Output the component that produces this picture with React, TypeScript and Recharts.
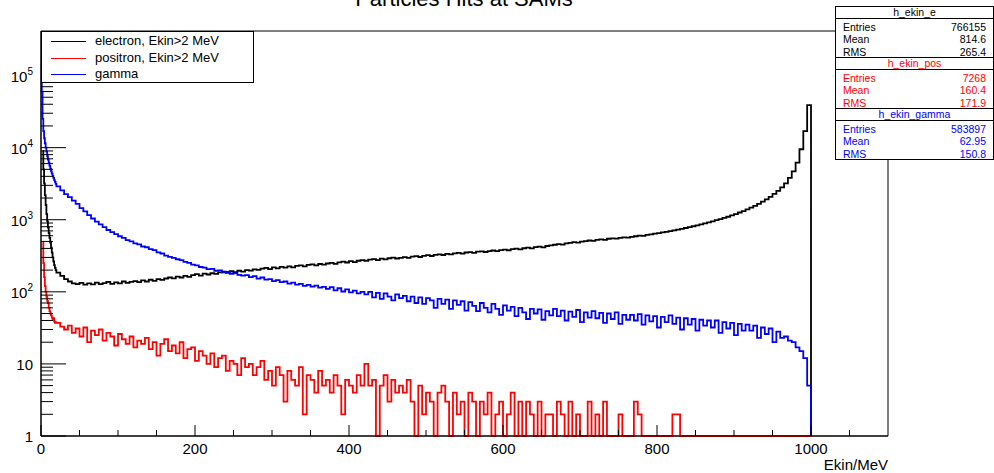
import { LineChart, Line, XAxis, YAxis, ReferenceArea } from 'recharts'

// Histogram binning: 1 MeV bins below 20 MeV, 5 MeV bins from 20 to 1000 MeV
const FINE_WIDTH = 1
const COARSE_START = 20
const COARSE_WIDTH = 5
const E_END = 1000

// counts per bin (1 = empty bin, drawn on the axis)
const GAMMA_FINE = [
  150000, 60000, 25000, 17000, 13500, 11500, 10000, 8800, 7600, 6800,
  6200, 5600, 5100, 4700, 4350, 4050, 3800, 3550, 3350, 3150
]
// electrons and positrons start at 2 MeV (Ekin>2 MeV cut)
const ELECTRON_FINE = [
  9000, 5000, 3200, 2200, 1600, 1200, 950, 780, 650, 560,
  480, 410, 350, 300, 265, 235, 215, 200
]
const POSITRON_FINE = [
  480, 250, 160, 120, 100, 85, 75, 70, 60, 54,
  50, 47, 44, 41, 43, 39, 37, 38
]

const GAMMA_COARSE = [
  2900, 2560, 2270, 2060, 1840, 1660, 1450, 1310, 1160, 1040,
  940, 860, 790, 720, 675, 630, 590, 560, 520, 500,
  470, 455, 425, 415, 390, 378, 352, 340, 318, 305,
  296, 283, 275, 260, 252, 238, 233, 221, 216, 207,
  208, 196, 199, 186, 189, 178, 182, 172, 168, 170,
  160, 165, 152, 158, 148, 150, 141, 145, 136, 139,
  130, 134, 126, 129, 121, 125, 118, 122, 114, 117,
  110, 116, 105, 112, 101, 108, 98, 104, 95, 100,
  92, 100, 84, 97, 80, 95, 86, 76, 92, 82,
  88, 74, 86, 70, 84, 68, 82, 76, 60, 80,
  68, 78, 58, 76, 66, 74, 55, 72, 64, 54,
  70, 60, 52, 68, 58, 48, 65, 55, 62, 46,
  60, 52, 42, 58, 50, 57, 41, 54, 47, 58,
  46, 55, 40, 53, 45, 56, 38, 52, 44, 54,
  43, 51, 37, 50, 42, 52, 36, 48, 41, 48,
  40, 49, 35, 47, 39, 46, 32, 45, 38, 47,
  36, 44, 30, 43, 35, 42, 29, 41, 34, 40,
  32, 40, 27, 38, 31, 37, 25, 36, 29, 35,
  29, 34, 23, 32, 26, 31, 20, 28, 23, 24,
  21, 20, 17, 15, 12, 5
]

const ELECTRON_COARSE = [
  185, 166, 150, 139, 131, 128, 133, 126, 131, 127,
  134, 128, 132, 137, 129, 135, 131, 139, 133, 137,
  141, 136, 144, 139, 147, 142, 150, 146, 153, 158,
  154, 162, 158, 166, 161, 170, 176, 168, 179, 174,
  181, 177, 186, 190, 183, 193, 188, 196, 191, 200,
  197, 205, 201, 210, 215, 207, 218, 212, 222, 216,
  225, 219, 229, 233, 226, 236, 240, 232, 243, 238,
  247, 252, 244, 256, 262, 255, 266, 259, 270, 276,
  270, 280, 284, 276, 288, 282, 292, 298, 290, 296,
  302, 295, 308, 312, 304, 316, 322, 314, 326, 331,
  324, 336, 330, 341, 346, 338, 351, 356, 348, 360,
  364, 357, 368, 374, 366, 379, 385, 377, 391, 397,
  388, 402, 409, 400, 416, 423, 414, 432, 441, 450,
  460, 452, 470, 478, 488, 480, 497, 506, 515, 508,
  525, 534, 527, 545, 552, 546, 560, 571, 564, 580,
  590, 601, 596, 615, 628, 640, 652, 666, 680, 695,
  712, 730, 748, 768, 790, 812, 836, 862, 890, 920,
  950, 985, 1020, 1060, 1100, 1150, 1200, 1260, 1320, 1390,
  1470, 1560, 1660, 1780, 1920, 2080, 2280, 2520, 2820, 3200,
  3800, 4700, 6200, 9500, 17000, 39000
]

const POSITRON_COARSE = [
  37, 33, 30, 34, 27, 31, 24, 32, 20, 29,
  25, 30, 21, 27, 24, 18, 26, 22, 19, 24,
  17, 21, 19, 23, 16, 20, 13, 19, 22, 15,
  18, 14, 20, 12, 16, 17, 11, 15, 13, 10,
  14, 9, 12, 13, 8, 11, 10, 7, 12, 9,
  10, 7, 9, 11, 6, 8, 5, 9, 7, 3,
  8, 6, 5, 9, 2, 7, 6, 4, 8, 5,
  6, 4, 7, 5, 2, 6, 5, 4, 7, 5,
  10, 5, 6, 1, 5, 7, 3, 6, 4, 5,
  4, 6, 3, 1, 5, 2, 4, 3, 1, 4,
  5, 3, 1, 4, 2, 3, 1, 4, 3, 1,
  3, 2, 4, 1, 2, 3, 1, 2, 4, 1,
  3, 1, 3, 2, 1, 3, 1, 2, 2, 1,
  3, 2, 1, 3, 1, 2, 1, 1, 3, 1,
  2, 1, 3, 1, 1, 1, 2, 1, 1, 1,
  3, 2, 1, 1, 1, 1, 1, 1, 1, 1,
  2, 2, 1, 1, 1, 1, 1, 1, 1, 1,
  1, 1, 1, 1, 1, 1, 1, 1, 1, 1,
  1, 1, 1, 1, 1, 1, 1, 1, 1, 1,
  1, 1, 1, 1, 1, 1
]

const X_TICKS = [0, 50, 100, 150, 200, 250, 300, 350, 400, 450, 500, 550, 600, 650, 700, 750, 800, 850, 900, 950, 1000, 1050]
const Y_DECADES = [1, 10, 100, 1000, 10000, 100000]
const Y_MINOR = [2, 3, 4, 5, 6, 7, 8, 9]
const Y_MAX = 415000

const STATS = [
  { name: 'h_ekin_e', color: '#000000', entries: '766155', mean: '814.6', rms: '265.4' },
  { name: 'h_ekin_pos', color: '#ff0000', entries: '7268', mean: '160.4', rms: '171.9' },
  { name: 'h_ekin_gamma', color: '#0000ff', entries: '583897', mean: '62.95', rms: '150.8' }
]

const LEGEND = [
  { label: 'electron, Ekin>2 MeV', color: '#000000' },
  { label: 'positron, Ekin>2 MeV', color: '#ff0000' },
  { label: 'gamma', color: '#0000ff' }
]

const FONT = '"Liberation Sans", Arial, Helvetica, sans-serif'

function toBins(fineStart: number, fine: number[], coarse: number[]) {
  const pts = fine.map((n, i) => ({ e: fineStart + i * FINE_WIDTH, n }))
  coarse.forEach((n, i) => pts.push({ e: COARSE_START + i * COARSE_WIDTH, n }))
  pts.push({ e: E_END, n: 1 })
  return pts
}

const gammaData = toBins(0, GAMMA_FINE, GAMMA_COARSE)
const electronData = toBins(2, ELECTRON_FINE, ELECTRON_COARSE)
const positronData = toBins(2, POSITRON_FINE, POSITRON_COARSE)

const yTicks: number[] = []
Y_DECADES.forEach((d) => {
  yTicks.push(d)
  Y_MINOR.forEach((m) => {
    if (d * m < Y_MAX) yTicks.push(d * m)
  })
})

function XTick(props: any) {
  const { x, y, payload } = props
  const v = payload.value
  const major = v % 200 === 0
  return (
    <g>
      <line x1={x} x2={x} y1={y} y2={y - (major ? 11 : 6)} stroke="#000" />
      {major && (
        <text x={x} y={y + 18} textAnchor="middle" fontSize={15} fontFamily={FONT} fill="#000">
          {v}
        </text>
      )}
    </g>
  )
}

function YTick(props: any) {
  const { x, y, payload } = props
  const v = payload.value
  const exp = Math.round(Math.log10(v))
  const major = Y_DECADES.includes(v)
  return (
    <g>
      <line x1={x} x2={x + (major ? 25 : 12)} y1={y} y2={y} stroke="#000" />
      {major && exp < 2 && (
        <text x={x - 8} y={y + 6} textAnchor="end" fontSize={15} fontFamily={FONT} fill="#000">
          {v}
        </text>
      )}
      {major && exp >= 2 && (
        <text x={x - 8} y={y + 6} textAnchor="end" fontSize={15} fontFamily={FONT} fill="#000">
          10
          <tspan dy={-7} fontSize={10}>
            {exp}
          </tspan>
        </text>
      )}
    </g>
  )
}

function StatsBox({ s, top }: { s: (typeof STATS)[number]; top: number }) {
  const row = (label: string, value: string, i: number) => (
    <div
      key={label}
      style={{
        position: 'absolute',
        left: 7,
        right: 7,
        top: 14 + i * 12.3,
        height: 12,
        lineHeight: '12px',
        display: 'flex',
        justifyContent: 'space-between'
      }}
    >
      <span>{label}</span>
      <span>{value}</span>
    </div>
  )
  return (
    <div
      style={{
        position: 'absolute',
        left: 835,
        top,
        width: 159,
        height: 52,
        boxSizing: 'border-box',
        border: '1px solid #000',
        background: '#fff',
        color: s.color,
        fontSize: 10.5,
        fontFamily: FONT
      }}
    >
      <div
        style={{
          position: 'absolute',
          left: 0,
          right: 0,
          top: 0,
          height: 11,
          lineHeight: '10px',
          textAlign: 'center',
          borderBottom: '1px solid #000'
        }}
      >
        {s.name}
      </div>
      {row('Entries', s.entries, 0)}
      {row('Mean', s.mean, 1)}
      {row('RMS', s.rms, 2)}
    </div>
  )
}

export default function App() {
  return (
    <div
      style={{
        position: 'absolute',
        left: 0,
        top: 0,
        width: 994,
        height: 473,
        background: '#fff',
        overflow: 'hidden',
        fontFamily: FONT
      }}
    >
      <div
        style={{
          position: 'absolute',
          left: 0,
          width: 928,
          top: -14,
          textAlign: 'center',
          fontSize: 22,
          lineHeight: '26px',
          color: '#000'
        }}
      >
        Particles Hits at SAMs
      </div>

      <LineChart width={994} height={473} margin={{ top: 31, right: 106, bottom: 0, left: 0 }}>
        <XAxis
          dataKey="e"
          type="number"
          domain={[0, 1100]}
          ticks={X_TICKS}
          interval={0}
          tick={<XTick />}
          tickLine={false}
          tickSize={0}
          tickMargin={0}
          height={37}
          axisLine={{ stroke: '#000' }}
        />
        <YAxis
          type="number"
          scale="log"
          domain={[1, Y_MAX]}
          ticks={yTicks}
          interval={0}
          tick={<YTick />}
          tickLine={false}
          tickSize={0}
          tickMargin={0}
          width={41}
          axisLine={{ stroke: '#000' }}
        />
        <ReferenceArea x1={0} x2={1100} y1={1} y2={Y_MAX} fill="none" stroke="#000" ifOverflow="visible" />
        <Line
          data={electronData}
          dataKey="n"
          type="stepAfter"
          stroke="#000000"
          strokeWidth={1.8}
          dot={false}
          activeDot={false}
          isAnimationActive={false}
        />
        <Line
          data={positronData}
          dataKey="n"
          type="stepAfter"
          stroke="#ff0000"
          strokeWidth={1.8}
          dot={false}
          activeDot={false}
          isAnimationActive={false}
        />
        <Line
          data={gammaData}
          dataKey="n"
          type="stepAfter"
          stroke="#0000ff"
          strokeWidth={1.8}
          dot={false}
          activeDot={false}
          isAnimationActive={false}
        />
      </LineChart>

      <div
        style={{
          position: 'absolute',
          right: 994 - 888,
          top: 457,
          fontSize: 15,
          lineHeight: '16px',
          color: '#000'
        }}
      >
        Ekin/MeV
      </div>

      <div
        style={{
          position: 'absolute',
          left: 41,
          top: 31,
          width: 213,
          height: 52,
          boxSizing: 'border-box',
          border: '1px solid #000',
          background: '#fff',
          fontSize: 13
        }}
      >
        {LEGEND.map((l, i) => (
          <div key={l.label} style={{ position: 'absolute', left: 0, top: 1 + i * 16.5, height: 16, width: '100%' }}>
            <div style={{ position: 'absolute', left: 9, width: 35, top: 8, height: 0, borderTop: `1.6px solid ${l.color}` }} />
            <div style={{ position: 'absolute', left: 53, top: 0, lineHeight: '16px', whiteSpace: 'nowrap' }}>{l.label}</div>
          </div>
        ))}
      </div>

      {STATS.map((s, i) => (
        <StatsBox key={s.name} s={s} top={6 + i * 51} />
      ))}
    </div>
  )
}
